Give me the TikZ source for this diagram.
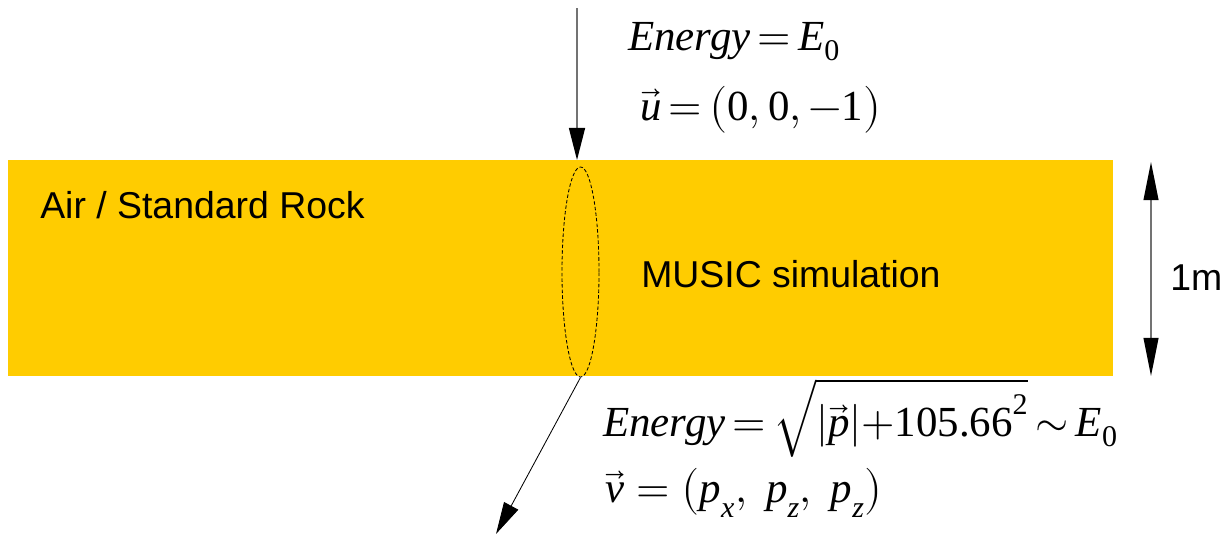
\documentclass[tikz,border=0pt]{standalone}
\usepackage{amsmath}
\usepackage{fontspec}
\usepackage{unicode-math}
\setmainfont{Liberation Serif}
\setsansfont{Liberation Sans}
\setmathfont{Latin Modern Math}
\newcommand\var[1]{\text{\itshape #1}}
\newcommand\num[1]{\text{\upshape #1}}
\newcommand\eq{\mkern3mu{=}\mkern3mu}
\newcommand\tightplus{\mathord{+}}
\usetikzlibrary{arrows.meta,shapes.geometric}
\definecolor{rockyellow}{HTML}{FFCC00}
\begin{document}
\begin{tikzpicture}[
  x=0.025cm, y=-0.025cm,
  label/.style={inner sep=0pt, anchor=base west, font=\sffamily\fontsize{26.6}{32}\selectfont},
  formula/.style={inner sep=0pt, anchor=base west, font=\fontsize{30.5}{36}\selectfont},
  track/.style={ellipse, draw, dash pattern=on 2.5pt off 1.5pt, line width=0.6pt, inner sep=0pt, minimum width=0.925cm, minimum height=5.25cm},
  bigtip/.tip={Triangle[length=8mm, width=4mm, color=black]},
  scaletip/.tip={Triangle[length=9.5mm, width=3.7mm, color=black]}
]
  \useasboundingbox (0,0) rectangle (1223,534);
  % rock layer
  \fill[rockyellow] (8,160) rectangle (1113,376);
  \node[track] (track) at (580.5,272) {};

  % incoming and outgoing muon
  \coordinate (src) at (577,8);
  \coordinate (entry) at (577,160);
  \coordinate (out) at (496,534);
  \draw[gray!90!black, line width=1pt, -bigtip] (src) -- (entry);
  \draw[line width=0.6pt, -bigtip] (track.south) -- (out);

  % thickness
  \coordinate (top) at (1151,162);
  \coordinate (bottom) at (1151,376);
  \draw[gray!90!black, line width=1pt, scaletip-scaletip] (top) -- (bottom);

  \node[label] (rock) at (40,218) {Air / Standard Rock};
  \node[label] (music) at (641,287) {MUSIC simulation};
  \node[label] (depth) at (1170,290) {1m};

  \node[formula] (ein) at (628,50) {$\var{Energy}\eq\var{E}_{\num{0}}$};
  \node[formula] (uin) at (640,120) {$\vec{\var{u}}\eq\bigl(\num{0},\num{0},-\num{1}\bigr)$};
  \node[formula] (eout) at (603,436) {$\var{Energy}\eq\sqrt{|\vec{\var{p}}|\tightplus\num{105.66}^{\num{2}}}\mkern3mu{\sim}\mkern3mu\var{E}_{\num{0}}$};
  \node[formula] (vout) at (605,502) {$\vec{\var{v}}\mkern5mu{=}\mkern5mu\bigl(\var{p}_{\var{x}},\;\var{p}_{\var{z}},\;\var{p}_{\var{z}}\bigr)$};
\end{tikzpicture}
\end{document}
